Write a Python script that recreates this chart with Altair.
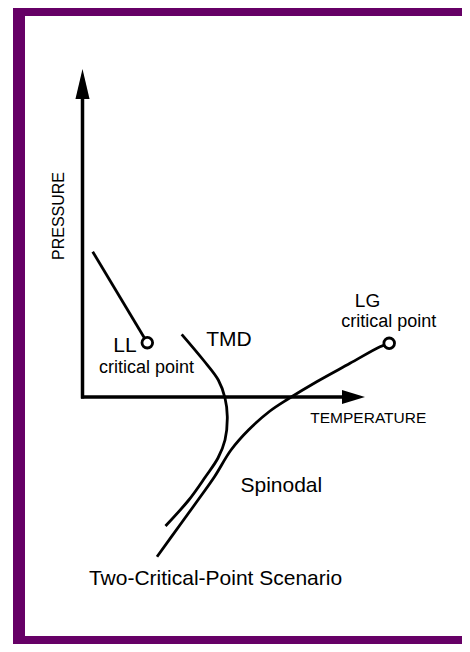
import altair as alt
import pandas as pd

# Schematic phase diagram; axes corner is the origin (T, P in arbitrary units)
ll_T = [1.02, 6.48]
ll_P = [14.53, 5.43]

tmd_T = [9.92, 12.08, 13.58, 14.25, 14.48, 14.25, 13.55, 12.30, 10.63, 8.30]
tmd_P = [6.27, 3.70, 1.70, -0.10, -1.97, -4.30, -6.10, -7.97, -10.30, -12.90]

spin_T = [30.67, 29.75, 26.75, 23.42, 20.55, 18.75, 16.60, 14.85, 13.20, 11.55, 9.87, 7.45]
spin_P = [5.37, 5.03, 3.37, 1.53, -0.20, -1.40, -3.30, -5.30, -7.97, -10.30, -12.63, -15.97]

crit_names = ["LL", "LG"]
crit_T = [6.48, 30.67]
crit_P = [5.43, 5.37]

big_text = ["LL", "TMD", "Spinodal"]
big_T = [4.25, 14.65, 19.88]
big_P = [4.50, 5.10, -9.47]

lg_text = ["LG"]
lg_T = [28.5]
lg_P = [9.0]

cp_text = ["critical point", "critical point"]
cp_T = [6.40, 30.63]
cp_P = [2.40, 7.03]

t_axis_label = "TEMPERATURE"
p_axis_label = "PRESSURE"
title_text = "Two-Critical-Point Scenario"

FONT = "Liberation Sans"
PURPLE = "#660066"

xs = alt.Scale(domain=[-7.45, 37.95], nice=False, zero=False)
ys = alt.Scale(domain=[-24.7, 38.9], nice=False, zero=False)


def X():
    return alt.X("T:Q", scale=xs, axis=None)


def Y():
    return alt.Y("P:Q", scale=ys, axis=None)


def df(T, P):
    return pd.DataFrame({"T": T, "P": P, "i": list(range(len(T)))})


frame = alt.Chart(pd.DataFrame({"a": [0]})).mark_rect(
    filled=False, stroke=PURPLE, strokeWidth=12
).encode(x=alt.value(11), x2=alt.value(480), y=alt.value(2), y2=alt.value(634))

h_axis = alt.Chart(df([-0.15, 26.5], [0, 0])).mark_line(
    color="black", strokeWidth=3.5
).encode(x=X(), y=Y())
v_axis = alt.Chart(df([0, 0], [-0.15, 29.9])).mark_line(
    color="black", strokeWidth=3.5
).encode(x=X(), y=Y())

up_head = alt.Chart(df([0], [31.3])).mark_point(
    shape="M0,-1L0.47,1L-0.47,1Z", filled=True, color="black", size=900, opacity=1
).encode(x=X(), y=Y())
right_head = alt.Chart(df([27.1], [0])).mark_point(
    shape="M1,0L-1,-0.61L-1,0.61Z", filled=True, color="black", size=529, opacity=1
).encode(x=X(), y=Y())


def curve(T, P):
    return alt.Chart(df(T, P)).mark_line(
        color="black", strokeWidth=2.8, interpolate="catmull-rom"
    ).encode(x=X(), y=Y(), order="i:Q")


ll_line = curve(ll_T, ll_P)
tmd_line = curve(tmd_T, tmd_P)
spin_line = curve(spin_T, spin_P)

crit = alt.Chart(pd.DataFrame({"name": crit_names, "T": crit_T, "P": crit_P})).mark_point(
    shape="circle", filled=True, fill="white", stroke="black", strokeWidth=2.8,
    size=113, opacity=1
).encode(x=X(), y=Y())


def texts(labels, T, P, size, **kw):
    d = pd.DataFrame({"label": labels, "T": T, "P": P})
    return alt.Chart(d).mark_text(
        font=FONT, fontSize=size, color="black", align="center", **kw
    ).encode(x=X(), y=Y(), text="label:N")


big = texts(big_text, big_T, big_P, 21, baseline="alphabetic")
lg = texts(lg_text, lg_T, lg_P, 19, baseline="alphabetic")
cp = texts(cp_text, cp_T, cp_P, 18, baseline="alphabetic")
t_lab = texts([t_axis_label], [28.58], [-2.63], 15.5, baseline="alphabetic")
p_lab = texts([p_axis_label], [-2.35], [18.1], 16, baseline="middle", angle=270)
title = texts([title_text], [13.3], [-18.8], 21, baseline="alphabetic")

chart = alt.layer(
    frame, h_axis, v_axis, up_head, right_head,
    ll_line, tmd_line, spin_line, crit,
    big, lg, cp, t_lab, p_lab, title
).properties(
    width=454, height=636, padding=0, background="white",
    autosize=alt.AutoSizeParams(type="none")
).configure_view(strokeWidth=0)

chart.save("out.html", embed_options={"renderer": "svg", "actions": False})
